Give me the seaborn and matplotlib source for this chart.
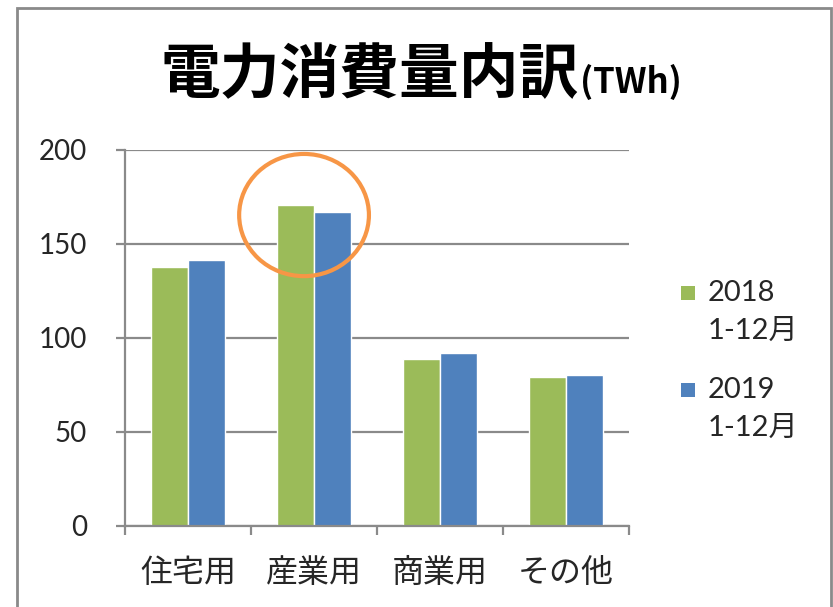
import matplotlib
matplotlib.use("Agg")
import matplotlib.pyplot as plt
import seaborn as sns
import pandas as pd
from matplotlib.patches import Rectangle, Ellipse

categories = ["住宅用", "産業用", "商業用", "その他"]
series_years = ["2018", "2019"]
series_period = "1-12月"
values_2018 = [137.8, 170.5, 88.8, 79.2]
values_2019 = [141.6, 167.2, 92.0, 80.2]
colors = ["#9BBB59", "#4F81BD"]
yticks = [0, 50, 100, 150, 200]
title_main = "電力消費量内訳"
title_unit = "(TWh)"

sns.set_theme(style="white")
plt.rcParams['font.family'] = ['Lato', 'Noto Sans CJK JP', 'DejaVu Sans']

df = pd.DataFrame({
    "cat": categories * 2,
    "series": [series_years[0]] * len(categories) + [series_years[1]] * len(categories),
    "value": values_2018 + values_2019,
})

W, H = 833, 607
fig = plt.figure(figsize=(W / 100, H / 100), dpi=100)
fig.patch.set_facecolor("white")
ax = fig.add_axes([125 / W, 1 - 526 / H, (629 - 125) / W, (526 - 150) / H])

sns.barplot(data=df, x="cat", y="value", hue="series", palette=colors,
            width=0.58, gap=0, saturation=1, ax=ax, legend=False)

grey = "#8a8a8a"
ax.set_xlim(-0.5, len(categories) - 0.5)
ax.set_ylim(0, 200)
ax.set_yticks(yticks)
ax.set_xlabel("")
ax.set_ylabel("")
ax.grid(axis="y", color=grey, linewidth=1.6)
ax.grid(axis="x", visible=False)
ax.set_axisbelow(True)
for s in ["top", "right"]:
    ax.spines[s].set_visible(False)
for s in ["left", "bottom"]:
    ax.spines[s].set_color(grey)
    ax.spines[s].set_linewidth(1.6)

ax.tick_params(axis="y", length=6.5, width=1.6, color=grey, pad=21,
               labelsize=20, labelcolor="#262626", direction="out", left=True)
ax.set_xticks(range(len(categories)))
ax.set_xticklabels(categories, fontsize=23, family=["Noto Sans CJK JP"], color="#262626")
ax.tick_params(axis="x", which="major", length=0, pad=22)
ax.set_xticks([i - 0.5 for i in range(len(categories) + 1)], minor=True)
ax.tick_params(axis="x", which="minor", length=6.5, width=1.6, color=grey,
               direction="out", bottom=True)

# highlight circle around 産業用
ell = Ellipse((0.921, 165.4), 1.03, 65, fill=False, edgecolor="#F79646",
              linewidth=3, clip_on=False, zorder=5)
ax.add_patch(ell)

# title
t1 = fig.text(160 / W, 1 - 93 / H, title_main, fontsize=43, weight="bold",
              family=["Noto Sans CJK JP"], va="baseline", ha="left", color="black")
fig.canvas.draw()
bb = t1.get_window_extent()
fig.text(bb.x1 / W + 2 / W, 1 - 93 / H, title_unit, fontsize=25, weight="bold",
         family=["Noto Sans CJK JP"], va="baseline", ha="left", color="black")

# legend
for i, yr in enumerate(series_years):
    top = 286 + i * 97
    fig.add_artist(Rectangle((681 / W, 1 - (top + 14) / H), 14 / W, 14 / H,
                             transform=fig.transFigure, facecolor=colors[i], edgecolor="none"))
    fig.text(708 / W, 1 - (top + 7) / H, yr, fontsize=21, va="center", ha="left", color="#262626")
    fig.text(708 / W, 1 - (top + 45) / H, series_period, fontsize=21, va="center", ha="left",
             color="#262626")

# outer frame
fig.add_artist(Rectangle((17 / W, -0.1), (831 - 17) / W, 1.1 - 8 / H,
                         transform=fig.transFigure, fill=False, edgecolor=grey, linewidth=2))

fig.savefig("out.png", dpi=100)
